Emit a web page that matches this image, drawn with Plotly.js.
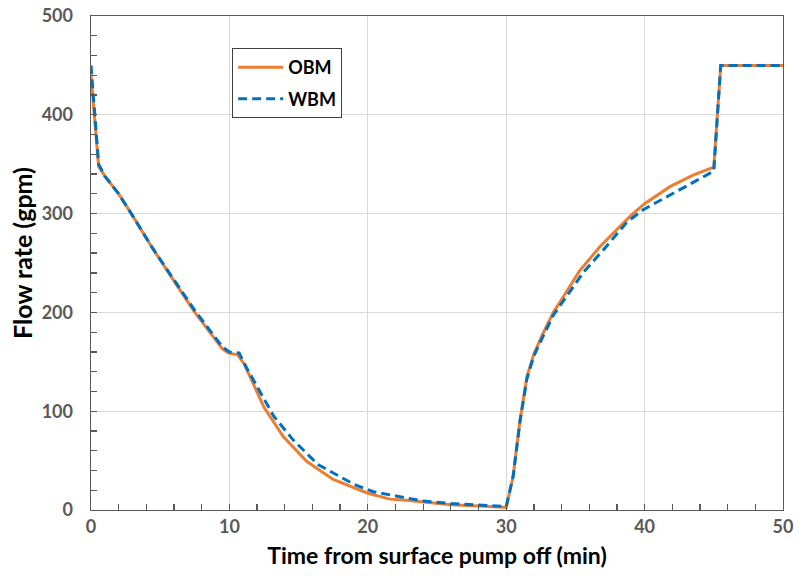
<!DOCTYPE html>
<html>
<head>
<meta charset="utf-8">
<script src="https://cdn.plot.ly/plotly-3.0.1.min.js"></script>
<style>html,body{margin:0;padding:0;background:#fff;}#chart{width:799px;height:586px;}</style>
</head>
<body>
<div id="chart"></div>
<script>
// OBM series (time, min ; flow rate, gpm)
const obmTime = [0, 0.55, 1, 2, 3, 4.4, 5.8, 7.5, 9.5, 9.9, 10.6, 11.1, 12.5, 13.9, 15.6, 17.5, 20, 21.6, 23, 26, 28.8, 30, 30.5, 31, 31.5, 32, 32.6, 33.4, 34, 35.3, 36.8, 38, 39, 40, 41.8, 43.5, 45, 45.5, 50];
const obmRate = [440, 348, 338, 320, 298, 266, 236, 200, 163, 159, 157, 147, 104, 74, 49, 31, 17, 11, 9.7, 5.4, 3.5, 2.6, 34, 91, 135, 158, 177, 200, 213, 242, 267, 284, 298, 310, 327, 339, 347, 450, 450];
// WBM series
const wbmTime = [0, 0.55, 1, 2, 3, 4.4, 5.8, 7.5, 9.5, 10, 10.7, 11.2, 13.2, 14.6, 16.4, 19, 20.4, 21.8, 24, 26, 29, 30, 30.5, 31, 31.5, 32, 32.6, 33.4, 34, 35.6, 37, 38.7, 39.9, 42.3, 44, 45, 45.5, 50];
const wbmRate = [450, 350, 338, 320, 298, 266, 237, 202, 165, 160, 159, 145, 95, 71, 46, 26, 18.5, 14.7, 9, 6.5, 4, 3.5, 34, 90, 133, 156, 174, 197, 209, 241, 263, 291, 304, 322, 335, 343, 450, 450];
const seriesNames = ["OBM", "WBM"];
const xTitle = "Time from surface pump off (min)";
const yTitle = "Flow rate (gpm)";

const font = "Lato, 'Open Sans', sans-serif";

const traces = [
  {x: obmTime, y: obmRate, name: seriesNames[0], mode: "lines", type: "scatter",
   line: {color: "#ED7D31", width: 3}, legendgroup: "a"},
  {x: wbmTime, y: wbmRate, name: seriesNames[1], mode: "lines", type: "scatter",
   line: {color: "#0070C0", width: 3, dash: "9px,5px"}, legendgroup: "b"}
];

const axisCommon = {
  showline: true, linecolor: "#595959", linewidth: 1.3, mirror: true,
  showgrid: true, gridcolor: "#D9D9D9", gridwidth: 1,
  ticks: "inside", ticklen: 6, tickcolor: "#595959", tickwidth: 1.3,
  zeroline: false,
  tickfont: {family: font, size: 18, color: "#595959", weight: "bold"}
};

const layout = {
  width: 799, height: 586,
  margin: {l: 91, r: 16, t: 16, b: 76},
  paper_bgcolor: "#fff", plot_bgcolor: "#fff",
  showlegend: true,
  legend: {x: 0.204, y: 0.935, xanchor: "left", yanchor: "top",
    bordercolor: "#404040", borderwidth: 1, bgcolor: "#fff",
    itemwidth: 45,
    font: {family: font, size: 18, color: "#000", weight: "bold"},
    tracegroupgap: 5},
  xaxis: Object.assign({}, axisCommon, {
    range: [0, 50], dtick: 10, tick0: 0,
    minor: {dtick: 2, ticks: "inside", ticklen: 6, tickcolor: "#595959", showgrid: false},
    title: {text: xTitle, standoff: 12,
      font: {family: font, size: 23, color: "#000", weight: "bold"}}
  }),
  yaxis: Object.assign({}, axisCommon, {
    range: [0, 500], dtick: 100, tick0: 0,
    minor: {dtick: 20, ticks: "inside", ticklen: 6, tickcolor: "#595959", showgrid: false},
    ticksuffix: "\u00a0\u00a0\u00a0"
  }),
  annotations: [{
    text: yTitle, xref: "paper", yref: "paper", x: -0.1, y: 0.52,
    xanchor: "center", yanchor: "middle", textangle: -90, showarrow: false,
    font: {family: font, size: 25, color: "#000", weight: "bold"}
  }]
};

Plotly.newPlot("chart", traces, layout, {displayModeBar: false, staticPlot: true});
</script>
</body>
</html>
